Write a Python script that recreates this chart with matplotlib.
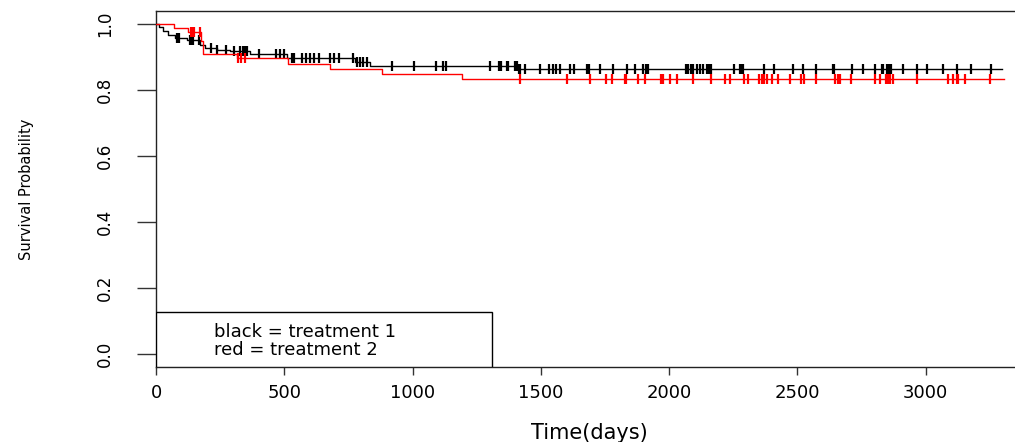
import matplotlib
matplotlib.use("Agg")
import matplotlib.pyplot as plt
import numpy as np
from matplotlib.patches import Rectangle

# Kaplan-Meier steps (day of drop, survival after the drop)
black_days = [0, 12, 28, 48, 75, 121, 172, 191, 238, 288, 366, 510, 775, 834, 1410]
black_surv = [1.0, 0.990, 0.979, 0.967, 0.959, 0.952, 0.936, 0.928, 0.923, 0.918,
              0.911, 0.896, 0.884, 0.873, 0.863]
black_end = 3296
black_censor = [81, 91, 132, 139, 145, 169, 214, 239, 273, 304, 327, 340, 347, 354,
                403, 468, 483, 499, 529, 538, 568, 583, 600, 616, 635, 678, 695, 713,
                769, 782, 795, 808, 824, 921, 1005, 1091, 1117, 1130, 1302, 1337, 1345,
                1367, 1373, 1399, 1406, 1413, 1419, 1438, 1497, 1532, 1547, 1559, 1575,
                1614, 1629, 1679, 1689, 1730, 1782, 1834, 1867, 1899, 1909, 1919, 2065,
                2074, 2084, 2094, 2107, 2120, 2133, 2146, 2156, 2162, 2253, 2276, 2283,
                2289, 2370, 2410, 2481, 2520, 2572, 2637, 2642, 2714, 2754, 2802, 2828,
                2834, 2850, 2858, 2863, 2910, 2964, 3003, 3068, 3120, 3175, 3253]

red_days = [0, 70, 125, 176, 185, 315, 515, 678, 880, 1191]
red_surv = [1.0, 0.988, 0.975, 0.950, 0.911, 0.896, 0.879, 0.865, 0.850, 0.835]
red_end = 3305
red_censor = [135, 140, 147, 172, 318, 330, 345, 1419, 1601, 1691, 1754, 1776, 1828,
              1832, 1880, 1906, 1968, 1975, 2003, 2029, 2092, 2162, 2217, 2237, 2291,
              2308, 2350, 2360, 2369, 2380, 2399, 2425, 2471, 2512, 2525, 2574, 2646,
              2659, 2665, 2707, 2802, 2821, 2845, 2854, 2860, 2873, 2964, 3087, 3107,
              3120, 3126, 3152, 3249]

x_ticks = [0, 500, 1000, 1500, 2000, 2500, 3000]
y_ticks = [0.0, 0.2, 0.4, 0.6, 0.8, 1.0]
y_labels = ["0.0", "0.2", "0.4", "0.6", "0.8", "1.0"]
legend_lines = ["black = treatment 1", "red = treatment 2"]

plt.rcParams["font.family"] = ["DejaVu Sans"]


def draw_km(ax, days, surv, end, censor, color):
    """Step curve plus censor ticks at the curve level."""
    days = np.asarray(days, dtype=float)
    surv = np.asarray(surv, dtype=float)
    xs = np.append(days, end)
    ys = np.append(surv, surv[-1])
    ax.step(xs, ys, where="post", color=color, lw=1.0, zorder=3)
    censor = np.asarray(censor, dtype=float)
    idx = np.searchsorted(days, censor, side="right") - 1
    ax.plot(censor, surv[idx], "|", color=color, ms=7.5, mew=1.6, zorder=3)


fig = plt.figure(figsize=(10.15, 4.42), dpi=100)
ax = fig.add_axes([156 / 1015, 75 / 442, 876 / 1015, 356 / 442])

draw_km(ax, black_days, black_surv, black_end, black_censor, "black")
draw_km(ax, red_days, red_surv, red_end, red_censor, "#ff0000")

ax.set_xlim(0, 3414)
ax.set_ylim(-0.04, 1.04)
ax.set_xticks(x_ticks)
ax.set_xticklabels([str(t) for t in x_ticks], fontsize=13)
ax.set_yticks(y_ticks)
ax.set_yticklabels(y_labels, fontsize=12, rotation=90, va="center")
ax.tick_params(axis="x", length=5.5, width=1.0, pad=7, color="#333333")
ax.tick_params(axis="y", length=13.5, width=1.0, pad=17, color="#333333")
for side in ("left", "bottom", "top"):
    ax.spines[side].set_linewidth(1.0)
    ax.spines[side].set_color("#222222")
ax.spines["right"].set_visible(False)

# legend box in the bottom-left corner
ax.add_patch(Rectangle((0, 0), 0.3836, 0.1545, transform=ax.transAxes,
                       facecolor="white", edgecolor="black", lw=1.0, zorder=4))
ax.text(0.066, 0.098, legend_lines[0], transform=ax.transAxes, fontsize=13,
        va="center", ha="left", zorder=5)
ax.text(0.066, 0.048, legend_lines[1], transform=ax.transAxes, fontsize=13,
        va="center", ha="left", zorder=5)

fig.text(589 / 1015, 1 - 433 / 442, "Time(days)", fontsize=15, ha="center", va="center")
fig.text(26 / 1015, 1 - 189 / 442, "Survival Probability", fontsize=10.5,
         rotation=90, ha="center", va="center")

fig.savefig("out.png", dpi=100)
